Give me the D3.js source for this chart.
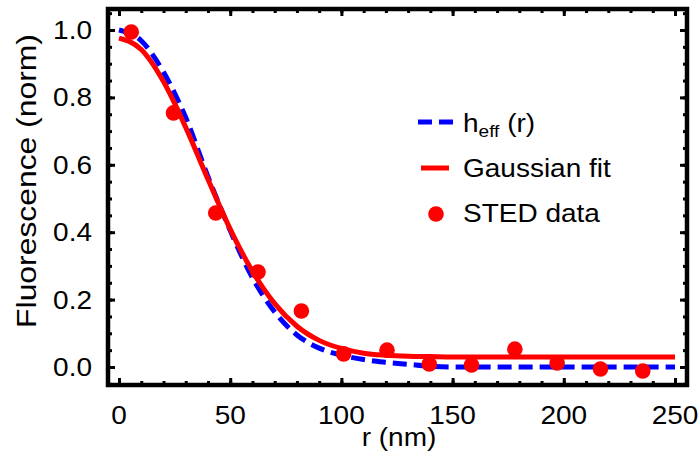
<!DOCTYPE html>
<html>
<head>
<meta charset="utf-8">
<script src="https://cdn.jsdelivr.net/npm/d3@7"></script>
<style>
  body { margin: 0; background: #fff; }
  text { font-family: 'Liberation Sans', Arial, sans-serif; fill: #000; }
</style>
</head>
<body>
<div id="chart"></div>
<script>
// STED data points
let stedR = [5.5, 24.5, 43.5, 62.5, 82, 101, 120.5, 139.5, 158.5, 178, 197, 216.5, 235.5]
let stedVal = [0.994, 0.754, 0.457, 0.282, 0.166, 0.039, 0.05, 0.009, 0.006, 0.053, 0.012, -0.006, -0.012]

// curves sampled every 10 nm
let curveR = [0, 10, 20, 30, 40, 50, 60, 70, 80, 90, 100, 110, 120, 130, 140, 150, 160, 170, 180, 190, 200, 210, 220, 230, 240, 250]
let heffVal = [1.0, 0.968, 0.875, 0.74, 0.565, 0.405, 0.265, 0.163, 0.095, 0.056, 0.035, 0.022, 0.014, 0.008, 0.002, 0, 0, 0, 0, 0, 0, 0, 0, 0, 0, 0]
let gaussVal = [0.976, 0.942, 0.847, 0.711, 0.557, 0.409, 0.284, 0.188, 0.121, 0.079, 0.055, 0.041, 0.035, 0.032, 0.031, 0.03, 0.03, 0.03, 0.03, 0.03, 0.03, 0.03, 0.03, 0.03, 0.03, 0.03]

let xMajor = [0, 50, 100, 150, 200, 250]
let xMinor = d3.range(0, 251, 10)
let yMajor = [0, 0.2, 0.4, 0.6, 0.8, 1.0]
let yMinor = d3.range(-1, 22).map(i => i * 0.05)

let legendLabels = ['Gaussian fit', 'STED data']

let margin = { top: 9, left: 108, right: 13, bottom: 75 }
let width = 700 - margin.left - margin.right
let height = 460 - margin.top - margin.bottom

// the original font runs a bit wide
let stretch = 1.12

let svg = d3
  .select('#chart')
  .append('svg')
  .attr('width', 700)
  .attr('height', 460)

let g = svg
  .append('g')
  .attr('transform', 'translate(' + margin.left + ',' + margin.top + ')')

let xPositionScale = d3.scaleLinear().domain([-4.95, 255.4]).range([0, width])
let yPositionScale = d3.scaleLinear().domain([-0.0534, 1.0623]).range([height, 0])

// ticks on all four sides, pointing inward
function ticks(axis, values, size, transform) {
  let a = g
    .append('g')
    .attr('transform', transform)
    .call(axis.tickValues(values).tickSize(size).tickFormat(''))
  a.select('.domain').remove()
  a.selectAll('line').attr('stroke', '#000').attr('stroke-width', 3)
}
ticks(d3.axisBottom(xPositionScale), xMinor, -4, 'translate(0,' + height + ')')
ticks(d3.axisBottom(xPositionScale), xMajor, -7, 'translate(0,' + height + ')')
ticks(d3.axisTop(xPositionScale), xMinor, -4, 'translate(0,0)')
ticks(d3.axisTop(xPositionScale), xMajor, -7, 'translate(0,0)')
ticks(d3.axisLeft(yPositionScale), yMinor, -4, 'translate(0,0)')
ticks(d3.axisLeft(yPositionScale), yMajor, -7, 'translate(0,0)')
ticks(d3.axisRight(yPositionScale), yMinor, -4, 'translate(' + width + ',0)')
ticks(d3.axisRight(yPositionScale), yMajor, -7, 'translate(' + width + ',0)')

g.append('rect')
  .attr('width', width)
  .attr('height', height)
  .attr('fill', 'none')
  .attr('stroke', '#000')
  .attr('stroke-width', 4.5)

// tick labels
g.selectAll('.x-label')
  .data(xMajor)
  .enter()
  .append('text')
  .attr('class', 'x-label')
  .attr('transform', d => 'translate(' + xPositionScale(d) + ',415) scale(' + stretch + ',1)')
  .attr('text-anchor', 'middle')
  .attr('font-size', 25)
  .text(d => d)

g.selectAll('.y-label')
  .data(yMajor)
  .enter()
  .append('text')
  .attr('class', 'y-label')
  .attr('transform', d => 'translate(-16,' + yPositionScale(d) + ') scale(' + stretch + ',1)')
  .attr('dy', '0.36em')
  .attr('text-anchor', 'end')
  .attr('font-size', 25)
  .text(d => d3.format('.1f')(d))

svg
  .append('text')
  .attr('transform', 'translate(399,446) scale(' + stretch + ',1)')
  .attr('text-anchor', 'middle')
  .attr('font-size', 25)
  .text('r (nm)')

svg
  .append('text')
  .attr('transform', 'translate(36,181) rotate(-90) scale(1.18,1)')
  .attr('text-anchor', 'middle')
  .attr('font-size', 27)
  .text('Fluorescence (norm)')

// lines
let line = d3
  .line()
  .x(d => xPositionScale(d[0]))
  .y(d => yPositionScale(d[1]))
  .curve(d3.curveMonotoneX)

g.append('path')
  .datum(curveR.map((r, i) => [r, heffVal[i]]))
  .attr('d', line)
  .attr('fill', 'none')
  .attr('stroke', '#0000ff')
  .attr('stroke-width', 5)
  .attr('stroke-dasharray', '14,7')

g.append('path')
  .datum(curveR.map((r, i) => [r, gaussVal[i]]))
  .attr('d', line)
  .attr('fill', 'none')
  .attr('stroke', '#ff0000')
  .attr('stroke-width', 5)

g.selectAll('.sted-dot')
  .data(stedR.map((r, i) => [r, stedVal[i]]))
  .enter()
  .append('circle')
  .attr('class', 'sted-dot')
  .attr('cx', d => xPositionScale(d[0]))
  .attr('cy', d => yPositionScale(d[1]))
  .attr('r', 7.8)
  .attr('fill', '#ff0000')

// legend
let legend = svg.append('g')
legend
  .append('line')
  .attr('x1', 418)
  .attr('x2', 454)
  .attr('y1', 122)
  .attr('y2', 122)
  .attr('stroke', '#0000ff')
  .attr('stroke-width', 5)
  .attr('stroke-dasharray', '14,7')
let heffText = legend
  .append('text')
  .attr('transform', 'translate(463,132) scale(' + stretch + ',1)')
  .attr('font-size', 25)
heffText.append('tspan').text('h')
heffText
  .append('tspan')
  .attr('font-size', 17)
  .attr('dy', 5)
  .text('eff')
heffText
  .append('tspan')
  .attr('dy', -5)
  .text(' (r)')

legend
  .append('line')
  .attr('x1', 421)
  .attr('x2', 449)
  .attr('y1', 168)
  .attr('y2', 168)
  .attr('stroke', '#ff0000')
  .attr('stroke-width', 5)
legend
  .append('text')
  .attr('transform', 'translate(463,177) scale(' + stretch + ',1)')
  .attr('font-size', 25)
  .text(legendLabels[0])

legend
  .append('circle')
  .attr('cx', 436)
  .attr('cy', 214)
  .attr('r', 7.8)
  .attr('fill', '#ff0000')
legend
  .append('text')
  .attr('transform', 'translate(463,222) scale(' + stretch + ',1)')
  .attr('font-size', 25)
  .text(legendLabels[1])
</script>
</body>
</html>
